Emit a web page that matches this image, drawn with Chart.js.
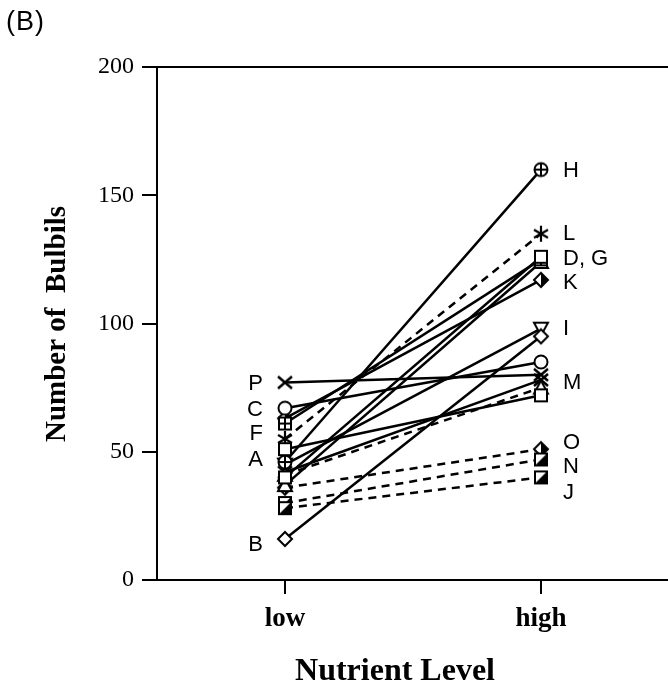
<!DOCTYPE html>
<html><head><meta charset="utf-8">
<script src="https://cdn.jsdelivr.net/npm/chart.js@4.4.1/dist/chart.umd.min.js"></script>
<style>
html,body{margin:0;padding:0;background:#fff;overflow:hidden;}
#wrap{position:relative;width:680px;height:687px;}
#title{position:absolute;left:6px;top:6px;font-family:"Liberation Sans",Arial,sans-serif;font-size:27px;color:#000;letter-spacing:1px;}
</style></head>
<body>
<div id="wrap"><canvas id="c" width="680" height="687"></canvas><div id="title">(B)</div></div>
<script>
const categories = ['low', 'high'];
const series = ['A','B','C','D','E','F','G','H','I','J','K','L','M','N','O','P'];
const lowValues  = [51, 16, 67, 40, 41, 61, 37, 46, 45, 28, 63, 55, 42, 30, 36, 77];
const highValues = [72, 95, 85, 126, 75, 125, 124, 160, 98, 40, 117, 135, 78, 47, 51, 80];
const dashedSeries = ['E','J','L','N','O'];
const markers = {A:'square',B:'diamond',C:'circle',D:'square',E:'triangle',F:'squarePlus',G:'triangle',
  H:'circlePlus',I:'downTriangle',J:'halfSquare',K:'halfDiamond',L:'star',M:'x',N:'halfSquare',O:'halfDiamond',P:'x'};
const lowLabels  = ['P','C','F','A','B'];
const lowLabelValues = [76.4, 66.3, 57, 46.8, 13.6];
const highLabels = ['H','L','D, G','K','I','M','O','N','J'];
const highLabelValues = [159.5, 135, 125, 116, 98, 77, 53.4, 44, 34];
const yTicks = [0, 50, 100, 150, 200];
const xTitle = 'Nutrient Level';
const yTitle = 'Number of  Bulbils';

function mk(draw){
  const c=document.createElement('canvas'); c.width=18; c.height=18;
  const g=c.getContext('2d'); g.lineWidth=2; g.strokeStyle='#000'; g.fillStyle='#fff';
  draw(g); return c;
}
const styles = {
  square: mk(g=>{g.fillRect(3,3,12,12);g.strokeRect(3,3,12,12);}),
  squarePlus: mk(g=>{g.fillRect(3,3,12,12);g.strokeRect(3,3,12,12);g.beginPath();g.moveTo(9,3);g.lineTo(9,15);g.moveTo(3,9);g.lineTo(15,9);g.stroke();}),
  halfSquare: mk(g=>{g.fillRect(3,3,12,12);g.fillStyle='#000';g.beginPath();g.moveTo(15,3);g.lineTo(15,15);g.lineTo(3,15);g.closePath();g.fill();g.strokeRect(3,3,12,12);}),
  diamond: mk(g=>{g.beginPath();g.moveTo(9,2);g.lineTo(16,9);g.lineTo(9,16);g.lineTo(2,9);g.closePath();g.fill();g.stroke();}),
  halfDiamond: mk(g=>{g.beginPath();g.moveTo(9,2);g.lineTo(16,9);g.lineTo(9,16);g.lineTo(2,9);g.closePath();g.fill();
    g.fillStyle='#000';g.beginPath();g.moveTo(9,2);g.lineTo(16,9);g.lineTo(9,16);g.closePath();g.fill();
    g.beginPath();g.moveTo(9,2);g.lineTo(16,9);g.lineTo(9,16);g.lineTo(2,9);g.closePath();g.stroke();}),
  circle: mk(g=>{g.beginPath();g.arc(9,9,6.5,0,Math.PI*2);g.fill();g.stroke();}),
  circlePlus: mk(g=>{g.beginPath();g.arc(9,9,6.5,0,Math.PI*2);g.fill();g.stroke();g.beginPath();g.moveTo(9,2.5);g.lineTo(9,15.5);g.moveTo(2.5,9);g.lineTo(15.5,9);g.stroke();}),
  triangle: mk(g=>{g.beginPath();g.moveTo(9,2);g.lineTo(16,15);g.lineTo(2,15);g.closePath();g.fill();g.stroke();}),
  downTriangle: mk(g=>{g.beginPath();g.moveTo(2,3);g.lineTo(16,3);g.lineTo(9,16);g.closePath();g.fill();g.stroke();}),
  x: mk(g=>{g.lineWidth=2.5;g.beginPath();g.moveTo(2,3);g.lineTo(16,15);g.moveTo(16,3);g.lineTo(2,15);g.stroke();}),
  star: mk(g=>{g.lineWidth=2.2;g.beginPath();g.moveTo(9,1);g.lineTo(9,17);g.moveTo(2,5);g.lineTo(16,13);g.moveTo(16,5);g.lineTo(2,13);g.stroke();}),
};

const datasets = series.map((s,i)=>({
  label: s,
  data: [{x:0,y:lowValues[i]},{x:1,y:highValues[i]}],
  borderColor:'#000', borderWidth:2.5,
  borderDash: dashedSeries.includes(s)?[8,6]:[],
  pointStyle: styles[markers[s]],
  pointRadius:8, pointHoverRadius:8,
  backgroundColor:'#fff', fill:false, tension:0
}));

const serif = '"Liberation Serif","Times New Roman",serif';
const annot = {
  id:'annot',
  afterDraw(chart){
    const {ctx, chartArea:a, scales:{x,y}} = chart;
    ctx.save();
    ctx.strokeStyle='#000'; ctx.lineWidth=2;
    ctx.beginPath(); ctx.moveTo(a.left-1,a.top); ctx.lineTo(a.right,a.top); ctx.stroke();
    ctx.fillStyle='#000';
    ctx.font='22px "Liberation Sans",Arial,sans-serif';
    ctx.textBaseline='middle';
    ctx.textAlign='right';
    lowLabels.forEach((t,i)=>ctx.fillText(t, x.getPixelForValue(0)-22, y.getPixelForValue(lowLabelValues[i])));
    ctx.textAlign='left';
    highLabels.forEach((t,i)=>ctx.fillText(t, x.getPixelForValue(1)+22, y.getPixelForValue(highLabelValues[i])));
    ctx.textBaseline='alphabetic';
    ctx.textAlign='center';
    ctx.font='bold 32px '+serif;
    ctx.fillText(xTitle, 395, 680);
    ctx.save();
    ctx.translate(65, 324);
    ctx.rotate(-Math.PI/2);
    ctx.font='bold 29px '+serif;
    ctx.fillText(yTitle, 0, 0);
    ctx.restore();
    ctx.restore();
  }
};

new Chart(document.getElementById('c'), {
  type:'line',
  data:{datasets},
  options:{
    responsive:false, animation:false,
    layout:{padding:{top:67,right:11,left:0,bottom:0}},
    plugins:{legend:{display:false},tooltip:{enabled:false}},
    scales:{
      x:{type:'linear', min:-0.5, max:1.5,
        afterBuildTicks(s){ s.ticks = categories.map((c,i)=>({value:i})); },
        afterFit(s){ s.height = 107; },
        ticks:{callback:(v)=>categories[v], color:'#000', font:{family:serif,size:27,weight:'bold'}, padding:9},
        grid:{drawOnChartArea:false, tickLength:14, color:'#000', lineWidth:2},
        border:{display:true,color:'#000',width:2}
      },
      y:{min:0,max:200,
        afterBuildTicks(s){ s.ticks = yTicks.map(v=>({value:v})); },
        afterFit(s){ s.width = 157; },
        ticks:{color:'#000', font:{family:serif,size:24}, padding:8},
        grid:{drawOnChartArea:false, tickLength:15, color:'#000', lineWidth:2},
        border:{display:true,color:'#000',width:2}
      }
    }
  },
  plugins:[annot]
});
</script>
</body></html>
